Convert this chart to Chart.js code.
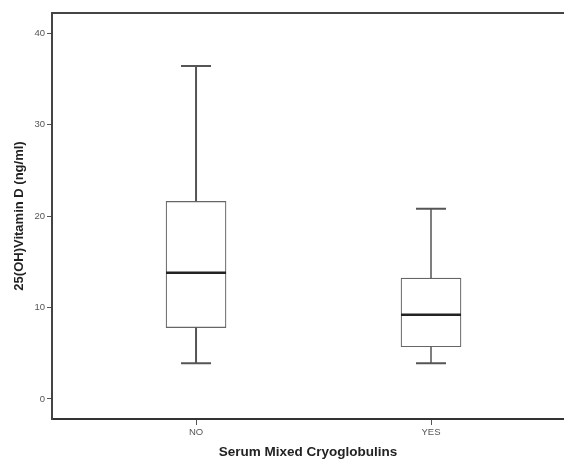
<!DOCTYPE html>
<html>
<head>
<meta charset="utf-8">
<script src="https://cdn.jsdelivr.net/npm/chart.js@4.4.1/dist/chart.umd.min.js"></script>
<style>
  html, body { margin: 0; padding: 0; background: #fff; }
  #wrap { width: 564px; height: 461px; }
</style>
</head>
<body>
<div id="wrap"><canvas id="canvas"></canvas></div>
<script>
// box plot values
var categories = ['NO', 'YES'];
var minVals = [3.9, 3.9];
var q1Vals = [7.8, 5.7];
var medianVals = [13.8, 9.2];
var q3Vals = [21.6, 13.2];
var maxVals = [36.4, 20.8];
var yTicks = [0, 10, 20, 30, 40];

var boxData = categories.map(function (c, i) {
	return { x: i + 1, y: [q1Vals[i], q3Vals[i]] };
});

// whiskers, caps, medians and the top frame line
var boxPlotPlugin = {
	id: 'boxPlot',
	afterDatasetsDraw: function (chart) {
		var ctx = chart.ctx;
		var xs = chart.scales.x, ys = chart.scales.y;
		var area = chart.chartArea;
		ctx.save();
		ctx.lineCap = 'butt';
		for (var i = 0; i < categories.length; i++) {
			var px = xs.getPixelForValue(i + 1);
			var wLine = i == 0 ? 2 : 1.5;
			ctx.strokeStyle = '#555';
			ctx.lineWidth = wLine;
			ctx.beginPath();
			ctx.moveTo(px, ys.getPixelForValue(q3Vals[i]));
			ctx.lineTo(px, ys.getPixelForValue(maxVals[i]));
			ctx.moveTo(px, ys.getPixelForValue(q1Vals[i]));
			ctx.lineTo(px, ys.getPixelForValue(minVals[i]));
			ctx.stroke();
			// caps
			ctx.lineWidth = 2;
			ctx.beginPath();
			ctx.moveTo(px - 15, ys.getPixelForValue(maxVals[i]));
			ctx.lineTo(px + 15, ys.getPixelForValue(maxVals[i]));
			ctx.moveTo(px - 15, ys.getPixelForValue(minVals[i]));
			ctx.lineTo(px + 15, ys.getPixelForValue(minVals[i]));
			ctx.stroke();
			// median
			ctx.strokeStyle = '#222';
			ctx.lineWidth = 2.5;
			ctx.beginPath();
			ctx.moveTo(px - 30, ys.getPixelForValue(medianVals[i]));
			ctx.lineTo(px + 30, ys.getPixelForValue(medianVals[i]));
			ctx.stroke();
		}
		// top frame
		ctx.strokeStyle = '#444';
		ctx.lineWidth = 2;
		ctx.beginPath();
		ctx.moveTo(area.left - 1, area.top);
		ctx.lineTo(area.right, area.top);
		ctx.stroke();
		ctx.restore();
	}
};

var ctx = document.getElementById('canvas').getContext('2d');
window.myBox = new Chart(ctx, {
	type: 'bar',
	data: {
		datasets: [{
			label: 'Box',
			data: boxData,
			backgroundColor: '#ffffff',
			borderColor: '#666',
			borderWidth: 1.2,
			borderSkipped: false,
			barThickness: 60
		}]
	},
	plugins: [boxPlotPlugin],
	options: {
		responsive: true,
		maintainAspectRatio: false,
		animation: false,
		layout: { padding: { top: 13, right: 0, left: 0, bottom: 0 } },
		plugins: {
			legend: { display: false },
			tooltip: { enabled: false }
		},
		scales: {
			x: {
				type: 'linear',
				position: 'bottom',
				offset: false,
				min: 0.387,
				max: 2.566,
				afterBuildTicks: function (scale) {
					scale.ticks = categories.map(function (c, i) { return { value: i + 1 }; });
				},
				afterFit: function (scale) { scale.height = 42; },
				ticks: {
					color: '#555',
					font: { family: 'Liberation Sans, Arial', size: 9.5 },
					padding: 2,
					callback: function (v) { return categories[v - 1]; }
				},
				grid: {
					offset: false,
					drawOnChartArea: false,
					drawTicks: true,
					tickLength: 6,
					color: '#555'
				},
				border: { display: true, color: '#333', width: 2 },
				title: {
					display: true,
					text: 'Serum Mixed Cryoglobulins',
					color: '#222',
					font: { family: 'Liberation Sans, Arial', size: 13.5, weight: 'bold' },
					padding: { top: 0, bottom: 1 }
				}
			},
			y: {
				min: -2.2,
				max: 42.2,
				afterBuildTicks: function (scale) {
					scale.ticks = yTicks.map(function (v) { return { value: v }; });
				},
				afterFit: function (scale) { scale.width = 52; },
				ticks: {
					color: '#555',
					font: { family: 'Liberation Sans, Arial', size: 9.5 },
					padding: 2
				},
				grid: {
					drawOnChartArea: false,
					drawTicks: true,
					tickLength: 5,
					color: '#555'
				},
				border: { display: true, color: '#444', width: 2 },
				title: {
					display: true,
					text: '25(OH)Vitamin D (ng/ml)',
					color: '#222',
					font: { family: 'Liberation Sans, Arial', size: 13, weight: 'bold' },
					padding: { top: 12, bottom: 0 }
				}
			}
		}
	}
});
</script>
</body>
</html>
